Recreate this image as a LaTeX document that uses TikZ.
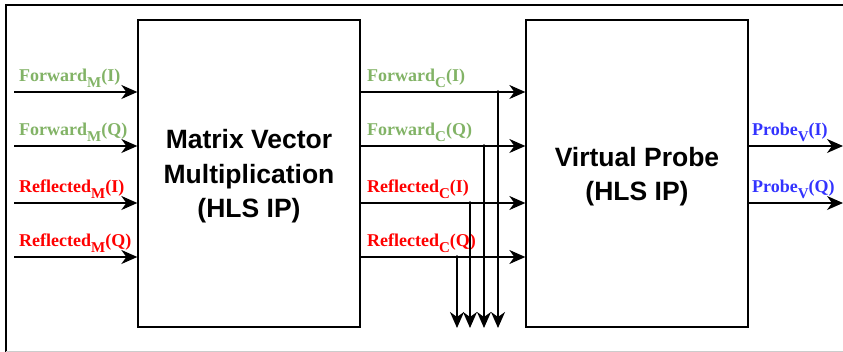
\documentclass[tikz,border=0pt]{standalone}
\usepackage{fontspec}
\setmainfont{Liberation Serif}
\newfontfamily\boxfont{Liberation Sans}
\usetikzlibrary{arrows.meta}
\definecolor{fwdgreen}{RGB}{130,179,102}
\definecolor{refred}{RGB}{255,0,0}
\definecolor{prbblue}{RGB}{51,51,255}
\newcommand{\lsub}[1]{\raisebox{-0.33em}{\fontsize{15}{15}\selectfont #1}}
\begin{document}
\begin{tikzpicture}[x=1pt,y=-1pt,
  blockbox/.style={draw, line width=1.3pt, minimum width=222pt, minimum height=307pt, inner sep=0pt},
  blocktext/.style={font=\boxfont\bfseries\fontsize{26.5}{34.5}\selectfont, align=center},
  sig/.style={line width=1.5pt, -{Stealth[length=16pt,width=14pt,inset=5pt]}},
  lbl/.style={anchor=base west, inner sep=0pt, font=\bfseries\fontsize{18}{18}\selectfont}]
\useasboundingbox (0,0) rectangle (843,352);
% frame
\draw[line width=1.2pt] (6,360) -- (6,5) -- (850,5);
\draw[black!20] (6,351.5) -- (850,351.5);
% blocks
\node[blockbox, label={[blocktext, yshift=-3pt]center:Matrix Vector\\Multiplication\\(HLS IP)}] (mvm) at (249,173.5) {};
\node[blockbox, label={[blocktext, yshift=-3pt]center:Virtual Probe\\(HLS IP)}] (vp) at (637,173.5) {};
% inputs
\coordinate (fmi) at (14,92);
\coordinate (fmq) at (14,146);
\coordinate (rmi) at (14,203);
\coordinate (rmq) at (14,257);
\draw[sig] (fmi) -- (fmi -| mvm.west);
\draw[sig] (fmq) -- (fmq -| mvm.west);
\draw[sig] (rmi) -- (rmi -| mvm.west);
\draw[sig] (rmq) -- (rmq -| mvm.west);
\node[lbl, fwdgreen] (lfmi) at (19,82) {Forward\lsub{M}(I)};
\node[lbl, fwdgreen] (lfmq) at (19,136) {Forward\lsub{M}(Q)};
\node[lbl, refred] (lrmi) at (19,193) {Reflected\lsub{M}(I)};
\node[lbl, refred] (lrmq) at (19,247) {Reflected\lsub{M}(Q)};
% between the blocks
\draw[sig] (fmi -| mvm.east) -- (fmi -| vp.west);
\draw[sig] (fmq -| mvm.east) -- (fmq -| vp.west);
\draw[sig] (rmi -| mvm.east) -- (rmi -| vp.west);
\draw[sig] (rmq -| mvm.east) -- (rmq -| vp.west);
\node[lbl, fwdgreen] (lfci) at (367,82) {Forward\lsub{C}(I)};
\node[lbl, fwdgreen] (lfcq) at (367,136) {Forward\lsub{C}(Q)};
\node[lbl, refred] (lrci) at (367,193) {Reflected\lsub{C}(I)};
\node[lbl, refred] (lrcq) at (367,247) {Reflected\lsub{C}(Q)};
% taps
\coordinate (tfi) at (498,92);
\coordinate (tfq) at (484,146);
\coordinate (tri) at (470,203);
\coordinate (trq) at (457,257);
\coordinate (dfi) at (498,328);
\coordinate (dfq) at (484,328);
\coordinate (dri) at (470,328);
\coordinate (drq) at (457,328);
\fill (tfi) circle (1.8);
\fill (tfq) circle (1.8);
\fill (tri) circle (1.8);
\fill (trq) circle (1.8);
\draw[sig] (tfi) -- (dfi);
\draw[sig] (tfq) -- (dfq);
\draw[sig] (tri) -- (dri);
\draw[sig] (trq) -- (drq);
% outputs
\coordinate (pvi) at (843,146);
\coordinate (pvq) at (843,203);
\draw[sig] (vp.east |- pvi) -- (pvi);
\draw[sig] (vp.east |- pvq) -- (pvq);
\node[lbl, prbblue] (lpvi) at (752,136) {Probe\lsub{V}(I)};
\node[lbl, prbblue] (lpvq) at (752,193) {Probe\lsub{V}(Q)};
\end{tikzpicture}
\end{document}
